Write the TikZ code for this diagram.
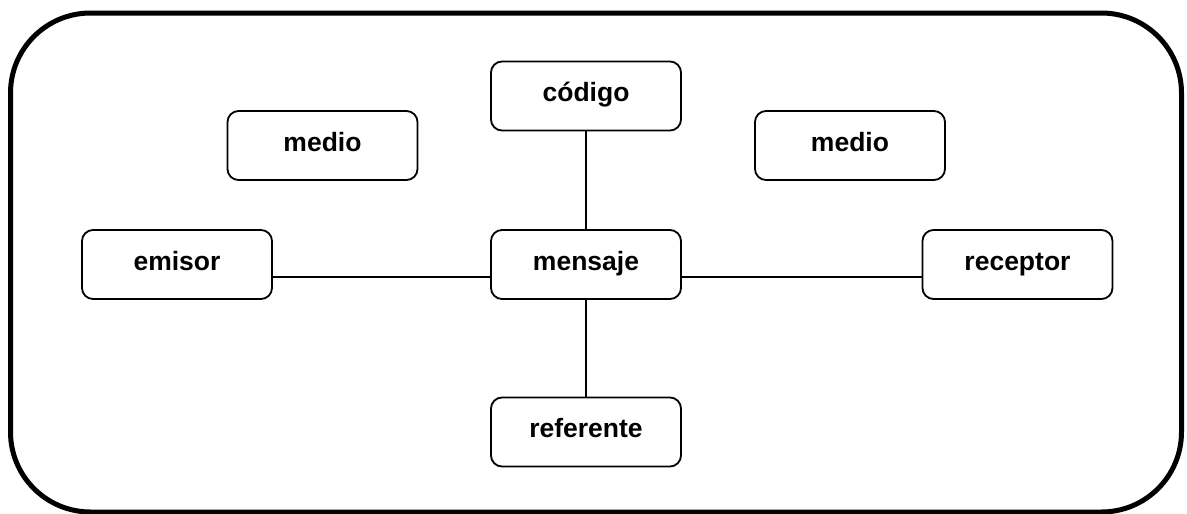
\documentclass[tikz,border=0pt]{standalone}
\usepackage{fontspec}
\setmainfont{Liberation Sans}
\begin{document}
\begin{tikzpicture}[x=1pt,y=-1pt,
  box/.style={draw,line width=1.8pt,rounded corners=11pt,minimum width=190pt,minimum height=69pt,inner sep=0pt,text height=15pt,text depth=4pt,font=\fontsize{26.5}{30}\selectfont\bfseries},
  conn/.style={line width=1.8pt}]
\useasboundingbox (0,0) rectangle (1187,514);
\draw[line width=5pt,rounded corners=80pt] (10.5,13) rectangle (1181.5,512);
\node[box] (codigo) at (586,96) {código};
\node[box] (medioL) at (322.5,145.5) {medio};
\node[box] (medioR) at (850,145.5) {medio};
\node[box] (emisor) at (177,264.5) {emisor};
\node[box] (mensaje) at (586,264.5) {mensaje};
\node[box] (receptor) at (1017.5,264.5) {receptor};
\node[box] (referente) at (586,432) {referente};
\draw[conn] (codigo) -- (mensaje);
\draw[conn] (mensaje) -- (referente);
\draw[conn] ([yshift=-12.5pt]emisor.east) -- ([yshift=-12.5pt]mensaje.west);
\draw[conn] ([yshift=-12.5pt]mensaje.east) -- ([yshift=-12.5pt]receptor.west);
\end{tikzpicture}
\end{document}
